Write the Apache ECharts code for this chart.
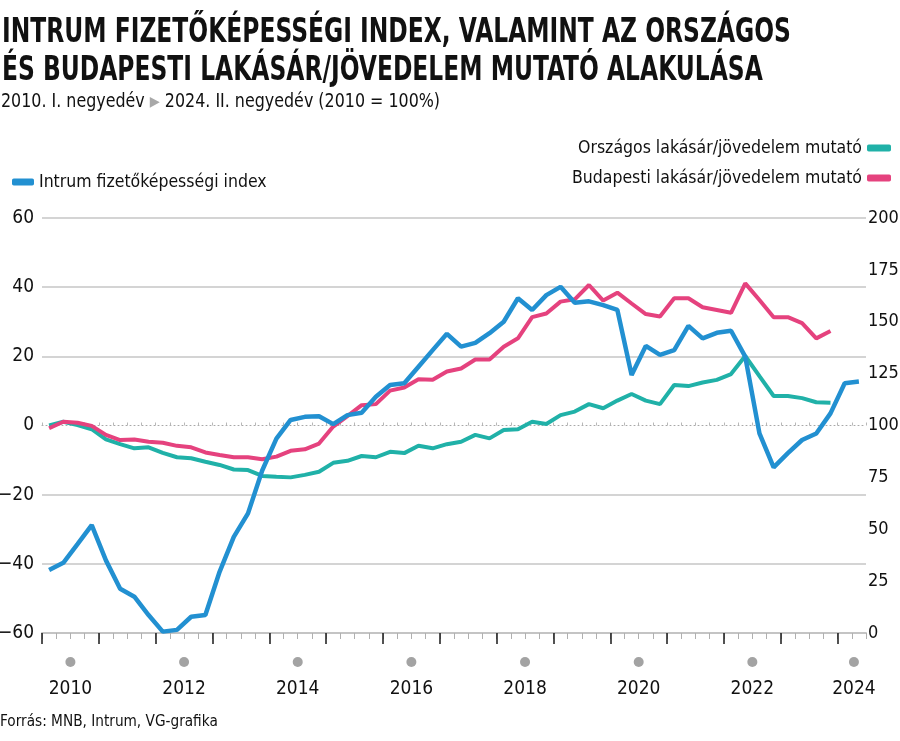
<!DOCTYPE html>
<html>
<head>
<meta charset="utf-8">
<script src="https://cdn.jsdelivr.net/npm/echarts@6/dist/echarts.min.js"></script>
<style>
html,body{margin:0;padding:0;background:#fff;}
#chart{width:900px;height:741px;}
</style>
</head>
<body>
<div id="chart"></div>
<script>
// Quarterly data, 2010 Q1 .. 2024 Q2
const years = [2010, 2012, 2014, 2016, 2018, 2020, 2022, 2024];
const leftTicks = [-60, -40, -20, 0, 20, 40, 60];
const rightTicks = [0, 25, 50, 75, 100, 125, 150, 175, 200];

const intrumIndex = [
  -41.8, -39.7, -34.3, -28.8, -39.0, -47.2, -49.5, -54.8,
  -59.6, -59.1, -55.3, -54.8, -42.3, -32.2, -25.4, -13.0,
  -3.8, 1.6, 2.5, 2.7, 0.4, 3.0, 3.7, 8.3,
  11.7, 12.2, 17.0, 21.8, 26.5, 22.8, 23.9, 26.7,
  30.0, 36.8, 33.4, 37.7, 40.1, 35.5, 35.9, 34.8,
  33.4, 14.6, 23.0, 20.4, 21.8, 28.8, 25.2, 26.8,
  27.4, 19.9, -2.3, -12.1, -8.0, -4.2, -2.3, 3.5,
  12.2, 12.7
];
const orszagos = [
  100.0, 101.8, 100.2, 98.2, 93.3, 91.0, 89.0, 89.5,
  86.8, 84.7, 84.2, 82.5, 81.0, 78.8, 78.5, 75.7,
  75.3, 75.0, 76.2, 77.7, 82.0, 83.0, 85.3, 84.7,
  87.3, 86.7, 90.2, 89.0, 91.0, 92.2, 95.5, 93.8,
  97.8, 98.2, 101.8, 100.7, 105.0, 106.7, 110.3, 108.3,
  112.0, 115.2, 112.0, 110.3, 119.5, 119.0, 120.7, 122.0,
  124.8, 133.5, 123.8, 114.2, 114.2, 113.2, 111.2, 111.0
];
const budapesti = [
  98.7, 101.8, 101.3, 99.8, 95.5, 93.0, 93.3, 92.2,
  91.7, 90.2, 89.5, 87.0, 85.8, 84.7, 84.7, 83.7,
  85.0, 87.8, 88.5, 91.3, 99.5, 104.5, 109.8, 110.3,
  116.8, 118.3, 122.3, 122.0, 126.0, 127.5, 131.8, 131.8,
  138.0, 142.0, 152.2, 154.0, 159.7, 160.8, 167.7, 160.2,
  164.0, 158.8, 153.7, 152.5, 161.3, 161.3, 157.0, 155.7,
  154.3, 168.5, 160.5, 152.2, 152.2, 149.3, 142.0, 145.5
];

const FONT = '"DejaVu Sans Condensed", "Liberation Sans Narrow", "DejaVu Sans", sans-serif';
const toPairs = arr => arr.map((v, i) => [i + 0.5, v]);
const nQ = intrumIndex.length; // 58 quarters
const majorTicks = [];
for (let q = 0; q < nQ; q += 4) majorTicks.push(q);
// label positions: middle of the even years (last one nudged inside the axis)
const labelPos = years.map((y, k) => k === years.length - 1 ? nQ - 0.85 : (y - 2010) * 4 + 2);
const minus = v => (v < 0 ? '\u2212' + Math.abs(v) : String(v));

const chart = echarts.init(document.getElementById('chart'), null, {renderer: 'canvas'});
const option = {
  backgroundColor: '#ffffff',
  animation: false,
  textStyle: {fontFamily: FONT},
  legend: [
    {
      data: ['Intrum fizetőképességi index'],
      left: 7, top: 168, icon: 'roundRect', itemWidth: 22, itemHeight: 7, itemGap: 6,
      textStyle: {fontFamily: FONT, fontSize: 17.5, color: '#111'},
      selectedMode: false
    },
    {
      data: ['Országos lakásár/jövedelem mutató', 'Budapesti lakásár/jövedelem mutató'],
      right: 4, top: 134, orient: 'vertical', align: 'right', icon: 'roundRect',
      itemWidth: 24, itemHeight: 7, itemGap: 12,
      textStyle: {fontFamily: FONT, fontSize: 17.5, color: '#111'},
      selectedMode: false
    }
  ],
  grid: {left: 42, right: 34, top: 218, height: 415, containLabel: false, outerBoundsMode: 'none'},
  xAxis: [
    {
      type: 'value', min: 0, max: nQ, interval: 1, position: 'bottom', offset: 0,
      axisLine: {show: true, onZero: false, lineStyle: {color: '#c4c4c4', width: 2}},
      axisTick: {show: true, length: 6, lineStyle: {color: '#b0b0b0', width: 1}},
      axisLabel: {show: false}, splitLine: {show: false}
    },
    {
      type: 'value', min: 0, max: nQ, position: 'bottom', offset: 0,
      axisLine: {show: false, onZero: false},
      axisTick: {show: true, length: 11, customValues: majorTicks, lineStyle: {color: '#1a1a1a', width: 1.5}},
      axisLabel: {
        show: true, customValues: labelPos, margin: 15,
        formatter: v => '{d|}\n{y|' + (2010 + Math.round((v - 2) / 4)) + '}',
        rich: {
          d: {width: 10, height: 10, borderRadius: 5, backgroundColor: '#a3a3a3', lineHeight: 28},
          y: {fontFamily: FONT, fontSize: 19, color: '#111', lineHeight: 26}
        }
      },
      splitLine: {show: false}
    },
    {
      type: 'value', min: 0, max: nQ, interval: 1, position: 'bottom',
      axisLine: {show: true, onZero: true, onZeroAxisIndex: 0, lineStyle: {color: '#a8a8a8', width: 1, type: [1, 3]}},
      axisTick: {show: true, inside: true, length: 3, lineStyle: {color: '#b8b8b8', width: 1}},
      axisLabel: {show: false}, splitLine: {show: false}, z: 1
    }
  ],
  yAxis: [
    {
      type: 'value', min: -60, max: 60, interval: 20, position: 'left',
      axisLine: {show: false, onZero: false}, axisTick: {show: false},
      axisLabel: {fontFamily: FONT, fontSize: 19, color: '#111', margin: 8, formatter: minus},
      splitLine: {show: true, lineStyle: {width: 1.5,
        color: ['rgba(0,0,0,0)', '#c6c6c6', '#c6c6c6', 'rgba(0,0,0,0)', '#c6c6c6', '#c6c6c6', '#c6c6c6']}}
    },
    {
      type: 'value', min: 0, max: 200, interval: 25, position: 'right',
      axisLine: {show: false, onZero: false}, axisTick: {show: false},
      axisLabel: {fontFamily: FONT, fontSize: 18, color: '#111', margin: 2, align: 'left'},
      splitLine: {show: false}
    }
  ],
  series: [
    {
      name: 'Országos lakásár/jövedelem mutató', type: 'line', yAxisIndex: 1, xAxisIndex: 0,
      data: toPairs(orszagos), showSymbol: false, symbol: 'none',
      lineStyle: {color: '#20b1a8', width: 4}, itemStyle: {color: '#20b1a8'}, z: 3
    },
    {
      name: 'Budapesti lakásár/jövedelem mutató', type: 'line', yAxisIndex: 1, xAxisIndex: 0,
      data: toPairs(budapesti), showSymbol: false, symbol: 'none',
      lineStyle: {color: '#e5427e', width: 4}, itemStyle: {color: '#e5427e'}, z: 4
    },
    {
      name: 'Intrum fizetőképességi index', type: 'line', yAxisIndex: 0, xAxisIndex: 0,
      data: toPairs(intrumIndex), showSymbol: false, symbol: 'none',
      lineStyle: {color: '#2290d1', width: 4.5}, itemStyle: {color: '#2290d1'}, z: 5
    }
  ],
  graphic: [
    {
      type: 'text', x: 2, y: 33, scaleX: 0.765,
      style: {text: 'INTRUM FIZETŐKÉPESSÉGI INDEX, VALAMINT AZ ORSZÁGOS',
        font: 'bold 34px ' + FONT, fill: '#111', verticalAlign: 'middle', align: 'left'}
    },
    {
      type: 'text', x: 2, y: 71, scaleX: 0.765,
      style: {text: 'ÉS BUDAPESTI LAKÁSÁR/JÖVEDELEM MUTATÓ ALAKULÁSA',
        font: 'bold 34px ' + FONT, fill: '#111', verticalAlign: 'middle', align: 'left'}
    },
    {
      type: 'text', x: 1, y: 102, scaleX: 0.93,
      style: {text: '2010. I. negyedév {g|▶} 2024. II. negyedév (2010 = 100%)',
        font: '19px ' + FONT, fill: '#111', verticalAlign: 'middle', align: 'left',
        rich: {g: {fill: '#a8a8a8', font: '14px "DejaVu Sans"'}}}
    },
    {
      type: 'text', x: 0, y: 722, scaleX: 0.95,
      style: {text: 'Forrás: MNB, Intrum, VG-grafika', font: '16px ' + FONT, fill: '#111',
        verticalAlign: 'middle', align: 'left'}
    }
  ]
};
chart.setOption(option);
</script>
</body>
</html>
